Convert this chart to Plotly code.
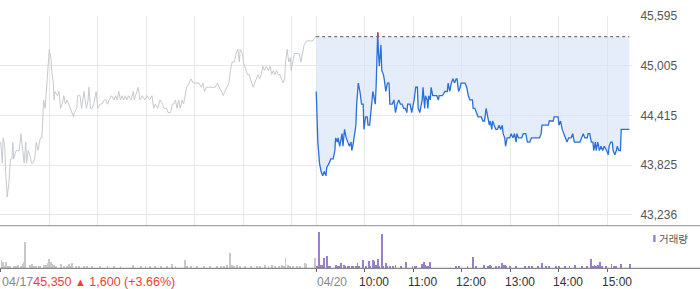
import plotly.graph_objects as go

# ---------------- data ----------------
# Day 1 (04/17) : minutes from 09:00, price
d1_min = [0, 2, 3, 5, 6, 8, 10, 12, 14, 15, 16, 19, 21, 23, 25, 27, 29, 31, 32, 34, 36, 38, 40, 42, 44, 46, 49, 51,
          53, 55, 56, 58, 60, 62, 63, 65, 66, 67, 70, 72, 74, 76, 78, 80, 82, 84, 86, 88, 90, 91, 94, 95, 98, 100,
          102, 103, 105, 106, 108, 109, 111, 113, 115, 118, 120, 123, 125, 128, 130, 132, 134, 137, 140, 142, 144,
          146, 148, 150, 152, 154, 156, 158, 161, 164, 165, 168, 170, 172, 175, 178, 181, 184, 187, 189, 191, 194,
          197, 200, 202, 205, 207, 210, 212, 214, 216, 218, 220, 222, 224, 226, 228, 230, 233, 235, 238, 240, 243,
          245, 248, 250, 252, 254, 257, 261, 265, 268, 270, 273, 275, 277, 279, 282, 284, 286, 289, 291, 293, 295,
          296, 299, 300, 303, 305, 307, 310, 312, 314, 316, 318, 320, 322, 324, 326, 328, 331, 333, 335, 337, 339,
          341, 343, 345, 347, 349, 351, 352, 354, 356, 358, 359, 361, 363, 365, 367, 369, 371, 373, 375, 378, 382,
          386, 389, 390]
d1_price = [44100, 43850, 44150, 44050, 43750, 43450, 43600, 43900, 43900, 44100, 43900, 44000, 44000, 44000, 44200,
            44050, 43850, 44100, 43850, 44000, 43950, 43850, 43850, 43900, 44100, 44000, 44150, 44150, 44600, 44500,
            44650, 44850, 45200, 45100, 44950, 44800, 44600, 44700, 44650, 44700, 44500, 44550, 44650, 44550, 44600,
            44550, 44500, 44450, 44400, 44450, 44500, 44650, 44650, 44500, 44650, 44700, 44550, 44500, 44600, 44750,
            44500, 44500, 44550, 44700, 44500, 44550, 44550, 44600, 44600, 44550, 44600, 44650, 44600, 44650, 44600,
            44700, 44600, 44650, 44600, 44650, 44600, 44650, 44600, 44700, 44600, 44700, 44750, 44600, 44650, 44600,
            44650, 44600, 44650, 44500, 44550, 44500,
            44600, 44550, 44500, 44500, 44450, 44450, 44550, 44550, 44600, 44500, 44600, 44500, 44600, 44550, 44650,
            44750, 44800, 44850, 44800, 44800, 44800, 44800, 44750, 44800, 44700, 44750, 44750, 44750, 44750, 44800,
            44750, 44700, 44650, 44700, 44750, 44800, 44950, 45050, 45050, 45150, 45200, 45050, 45200, 45150, 45050,
            44950, 44900, 44900, 44800, 44750, 44800, 44850, 44900, 44850, 44900, 45000, 44950, 45000, 44950, 45000,
            44900, 44950, 44900, 44950, 44900, 44900, 44850, 44800, 44850, 45050, 45200, 45050, 45100, 44950, 45050,
            45150, 45150, 45150, 45150, 45050, 45150, 45250, 45300, 45300, 45300, 45350, 45350]

# Day 2 (04/20) : minutes from 09:00, price
d2_min = [0, 2, 4, 6, 8, 10, 12, 13, 16, 18, 21, 23, 24, 26, 27, 29, 30, 32, 33, 35, 37, 39, 41, 43, 44, 46, 49, 50,
          52, 54, 56, 58, 59, 61, 63, 64, 66, 67, 69, 70, 72, 73, 74, 76, 77, 78, 80, 81, 83, 84, 86, 88, 90, 91, 94,
          96, 98, 100, 102, 104, 106, 108, 110, 112, 113, 116, 118, 121, 123, 125, 126, 128, 129, 131, 132, 134, 135,
          137, 138, 139, 141, 142, 144, 146, 149, 151, 152, 156, 159, 162, 163, 165, 167, 169, 171, 173, 174, 176,
          178, 179, 184, 186, 188, 190, 193, 194, 196, 198, 200, 204, 206, 208, 210, 212, 214, 215, 217, 218, 220,
          222, 224, 226, 228, 230, 231, 233, 234, 236, 239, 241, 243, 245, 247, 248, 250, 254, 256, 259, 261, 264,
          266, 270, 276, 278, 279, 282, 287, 288, 293, 294, 297, 299, 300, 302, 304, 306, 308, 310, 312, 315, 317,
          319, 323, 326, 328, 330, 332, 335, 336, 338, 340, 342, 343, 345, 346, 348, 350, 352, 354, 356, 359, 361,
          362, 364, 366, 367, 369, 371, 372, 374, 376, 377, 387]
d2_price = [44700, 44100, 43850, 43750, 43700, 43750, 43700, 43800, 43850, 43900, 43900, 44000, 44150, 44100, 44150,
            44050, 44100, 44200, 44050, 44250, 44150, 44100, 44050, 44100, 44000, 44100, 44300, 44550, 44800, 44700,
            44550, 44550, 44250, 44400, 44400, 44300, 44300, 44400, 44600, 44700, 44600, 44550, 44750, 45400, 45150,
            45000, 45250, 44950, 44900, 44850, 44700, 44800, 44800, 44550, 44550, 44600, 44450, 44550, 44600, 44550,
            44550, 44500, 44500, 44450, 44550, 44550, 44450, 44600, 44750, 44750, 44500, 44450, 44500, 44600, 44750,
            44500, 44650, 44600, 44500, 44650, 44600, 44750, 44650, 44650, 44650, 44600, 44650, 44650, 44700, 44700,
            44800, 44700, 44800, 44850, 44800, 44850, 44850, 44700, 44750, 44800, 44800, 44750, 44650, 44600,
            44600, 44500, 44500, 44450, 44400, 44400, 44350, 44350, 44500, 44400, 44300, 44350, 44250, 44350, 44300,
            44250, 44250, 44300, 44250, 44300, 44200, 44150, 44050, 44150, 44150, 44200, 44150, 44200, 44100, 44200,
            44150, 44150, 44200, 44200, 44100, 44100, 44150, 44150, 44150, 44200, 44300, 44300, 44300, 44350, 44350,
            44400, 44400, 44400, 44300, 44350, 44250, 44200, 44150, 44100, 44150, 44150, 44200, 44100, 44100, 44100,
            44150, 44200, 44150, 44150, 44200, 44200, 44100, 44100, 44000, 44100, 44000, 44100, 44000, 44050, 44000,
            44050, 44000, 43950, 44050, 44100, 44100, 44000, 43950, 44000, 44050, 44000, 44000, 44250, 44250]

prev_close = 45350

# Volume (thousand shares)
v1_min = [1, 3, 5, 7, 9, 12, 16, 19, 21, 25, 27, 29, 30, 36, 39, 41, 44, 47, 49, 53, 56, 58, 60, 62, 64, 66, 68, 74,
          78, 82, 84, 86, 88, 93, 97, 103, 107, 113, 123, 132, 140, 148, 164, 173, 179, 185, 191, 198, 206, 212, 216,
          228, 230, 235, 243, 251, 259, 267, 272, 276, 280, 283, 286, 288, 292, 296, 302, 309, 317, 321, 327, 331,
          335, 339, 344, 348, 350, 352, 355, 358, 361, 366, 370, 376, 378, 389]
v1_vol = [8.0, 6.3, 1.7, 6.3, 2.3, 1.7, 2.3, 1.7, 3.0, 1.7, 4.0, 5.7, 25.7, 3.0, 4.0, 2.3, 1.7, 2.3, 1.7, 3.0, 3.0, 5.0,
          9.0, 6.3, 4.0, 3.0, 1.7, 4.0, 1.7, 1.7, 4.0, 2.3, 5.0, 1.7, 1.3, 1.3, 1.3, 1.3, 2.0, 1.3, 1.3, 1.3, 3.3,
          1.3, 1.7, 1.7, 2.3, 1.3, 1.3, 4.0, 2.0, 8.3, 2.3, 1.7, 1.7, 1.7, 1.3, 1.7, 2.3, 2.0, 3.0, 15.3, 3.3, 2.3,
          2.7, 2.0, 1.7, 1.3, 1.3, 1.7, 3.3, 1.7, 3.0, 1.7, 2.0, 3.0, 2.3, 10.3, 3.0, 2.0, 2.3, 2.0, 1.7, 4.7, 4.0,
          10.0]
v2_min = [1, 3, 4, 6, 7, 10, 13, 15, 17, 24, 27, 29, 31, 34, 36, 39, 41, 44, 46, 49, 51, 53, 58, 62, 65, 67, 70, 72,
          74, 76, 78, 81, 82, 86, 88, 91, 95, 98, 105, 111, 119, 122, 123, 131, 133, 134, 137, 139, 141, 173, 177,
          187, 194, 198, 207, 212, 215, 216, 222, 226, 230, 232, 233, 235, 239, 247, 258, 263, 267, 274, 279, 284,
          288, 296, 300, 307, 313, 320, 329, 335, 340, 342, 344, 346, 348, 351, 353, 358, 365, 368, 371, 377, 388]
v2_vol = [2.3, 36.3, 3.0, 3.3, 3.3, 10.3, 12.3, 1.7, 1.3, 3.3, 1.7, 2.3, 5.3, 3.3, 1.3, 1.3, 2.3, 1.7, 2.3, 2.3, 5.3,
          1.3, 7.7, 1.3, 7.3, 2.3, 7.7, 7.0, 3.3, 9.3, 1.7, 34.3, 1.7, 5.3, 1.3, 1.3, 1.3, 2.7, 2.3, 6.3, 1.3, 2.3,
          1.7, 4.0, 6.3, 2.7, 1.3, 1.3, 6.3, 2.3, 1.3, 1.3, 11.3, 1.3, 3.3, 1.3, 3.0, 1.7, 1.3, 1.7, 5.3, 3.3, 2.7,
          1.3, 1.3, 1.3, 2.3, 1.3, 1.3, 1.3, 5.3, 1.3, 1.3, 1.3, 1.3, 1.3, 1.3, 3.3, 1.3, 1.3, 9.3, 2.3, 3.0, 2.3,
          3.3, 6.3, 1.3, 1.3, 4.3, 1.7, 2.3, 4.3, 4.3]

y_ticks = [43236, 43825.75, 44415.5, 45005.25, 45595]
y_ticktext = ["43,236", "43,825", "44,415", "45,005", "45,595"]
hour_labels = ["10:00", "11:00", "12:00", "13:00", "14:00", "15:00"]
day_labels = ["04/17", "04/20"]
summary_text = "45,350 ▲ 1,600 (+3.66%)"

# ---------------- derived ----------------
DAY = 390
x2 = [DAY + m for m in d2_min]
v2x = [DAY + m for m in v2_min]
grid_x = [h * 60 for h in range(0, 7)] + [DAY + h * 60 for h in range(0, 7)]
hour_x = [DAY + (i + 1) * 60 for i in range(len(hour_labels))]

# red parts of the day-2 line (above previous close)
red_x, red_y = [], []
for i in range(len(x2) - 1):
    xa, ya, xb, yb = x2[i], d2_price[i], x2[i + 1], d2_price[i + 1]
    if ya > prev_close or yb > prev_close:
        def cross():
            t = (prev_close - ya) / (yb - ya)
            return xa + t * (xb - xa)
        if ya > prev_close and yb > prev_close:
            red_x += [xa, xb, None]; red_y += [ya, yb, None]
        elif ya > prev_close:
            red_x += [xa, cross(), None]; red_y += [ya, prev_close, None]
        else:
            red_x += [cross(), xb, None]; red_y += [prev_close, yb, None]

BLUE = "#2a6fd9"
PURPLE = "#9a80cc"
GRAY_LINE = "#c6c9ce"

fig = go.Figure()
fig.add_trace(go.Scatter(x=d1_min, y=d1_price, mode="lines", line=dict(color=GRAY_LINE, width=1),
                         xaxis="x", yaxis="y", hoverinfo="skip"))
fig.add_trace(go.Scatter(x=[x2[0], x2[-1]], y=[prev_close, prev_close], mode="lines",
                         line=dict(color="#555555", width=1, dash="dot"), xaxis="x", yaxis="y", hoverinfo="skip"))
fig.add_trace(go.Scatter(x=x2, y=d2_price, mode="lines", line=dict(color=BLUE, width=1.3),
                         fill="tonexty", fillcolor="rgba(214,228,246,0.65)", xaxis="x", yaxis="y", hoverinfo="skip"))
fig.add_trace(go.Scatter(x=red_x, y=red_y, mode="lines", line=dict(color="#f03030", width=1.3),
                         xaxis="x", yaxis="y", hoverinfo="skip"))

fig.add_trace(go.Bar(x=v1_min, y=v1_vol, width=1.1, marker=dict(color="#c8c8c8", line=dict(width=0)),
                     xaxis="x2", yaxis="y2", hoverinfo="skip"))
fig.add_trace(go.Bar(x=v2x, y=v2_vol, width=1.1, marker=dict(color=PURPLE, line=dict(width=0)),
                     xaxis="x2", yaxis="y2", hoverinfo="skip"))

XR = [-0.87, 780.3]
PLOT_W = 632.0
PLOT_H = 252.0

def py(pix):  # pixel y -> paper y
    return (268.0 - pix) / PLOT_H

def px(pix):
    return pix / PLOT_W

annotations = []
lab_y = py(281.5)
annotations.append(dict(xref="x2", yref="paper", x=0, y=lab_y, xanchor="left", yanchor="middle", showarrow=False,
                        text=day_labels[0] + "<span style='color:#f53b3b'>" + summary_text.replace("▲", "<span style='font-size:11px'>▲</span>") + "</span>",
                        font=dict(family="Liberation Sans, Arial", size=12.5, color="#888888"), xshift=-1))
annotations.append(dict(xref="x2", yref="paper", x=DAY, y=lab_y, xanchor="left", yanchor="middle", showarrow=False,
                        text=day_labels[1], font=dict(family="Liberation Sans, Arial", size=12, color="#888888"),
                        xshift=-1))
for hx, ht in zip(hour_x, hour_labels):
    annotations.append(dict(xref="x2", yref="paper", x=hx, y=lab_y, xanchor="center", yanchor="middle",
                            showarrow=False, text=ht, xshift=9.5,
                            font=dict(family="Liberation Sans, Arial", size=12, color="#333333")))
annotations.append(dict(xref="paper", yref="paper", x=px(657), y=py(238.5), xanchor="left", yanchor="middle",
                        showarrow=False, text="거래량",
                        font=dict(family="Noto Sans CJK KR", size=10.5, color="#555555")))

shapes = [
    dict(type="line", xref="paper", yref="paper", x0=0, x1=px(700), y0=py(225.7), y1=py(225.7),
         line=dict(color="#8f8f8f", width=1)),
    dict(type="line", xref="paper", yref="paper", x0=0, x1=px(700), y0=py(268.3), y1=py(268.3),
         line=dict(color="#6a6a6a", width=1)),
    dict(type="rect", xref="paper", yref="paper", x0=px(653.2), x1=px(655.6), y0=py(242), y1=py(235),
         line=dict(width=0), fillcolor=PURPLE),
]

fig.update_layout(
    width=700, height=289,
    margin=dict(l=0, r=68, t=16, b=21),
    paper_bgcolor="white", plot_bgcolor="white",
    showlegend=False, bargap=0,
    xaxis=dict(domain=[0, 1], range=XR, anchor="y", tickvals=grid_x, showticklabels=False,
               showgrid=True, gridcolor="#e8e8e8", gridwidth=1, zeroline=False, showline=False, ticks=""),
    yaxis=dict(domain=[0.168, 1], range=[43109, 45595], side="right", tickvals=y_ticks, ticktext=y_ticktext,
               showgrid=True, gridcolor="#e8e8e8", zeroline=False, showline=False,
               ticks="outside", ticklen=5, tickcolor="rgba(0,0,0,0)",
               tickfont=dict(family="Liberation Sans, Arial", size=12, color="#555555")),
    xaxis2=dict(domain=[0, 1], range=XR, anchor="y2", matches="x", tickvals=[0, DAY] + hour_x,
                showticklabels=False, showgrid=False, zeroline=False, showline=False,
                ticks="outside", ticklen=3, tickcolor="#666666", tickwidth=1),
    yaxis2=dict(domain=[0, 0.166], range=[0, 42], showticklabels=False, showgrid=False, zeroline=False,
                showline=False, ticks=""),
    annotations=annotations,
    shapes=shapes,
)

fig.write_html("out.html")
